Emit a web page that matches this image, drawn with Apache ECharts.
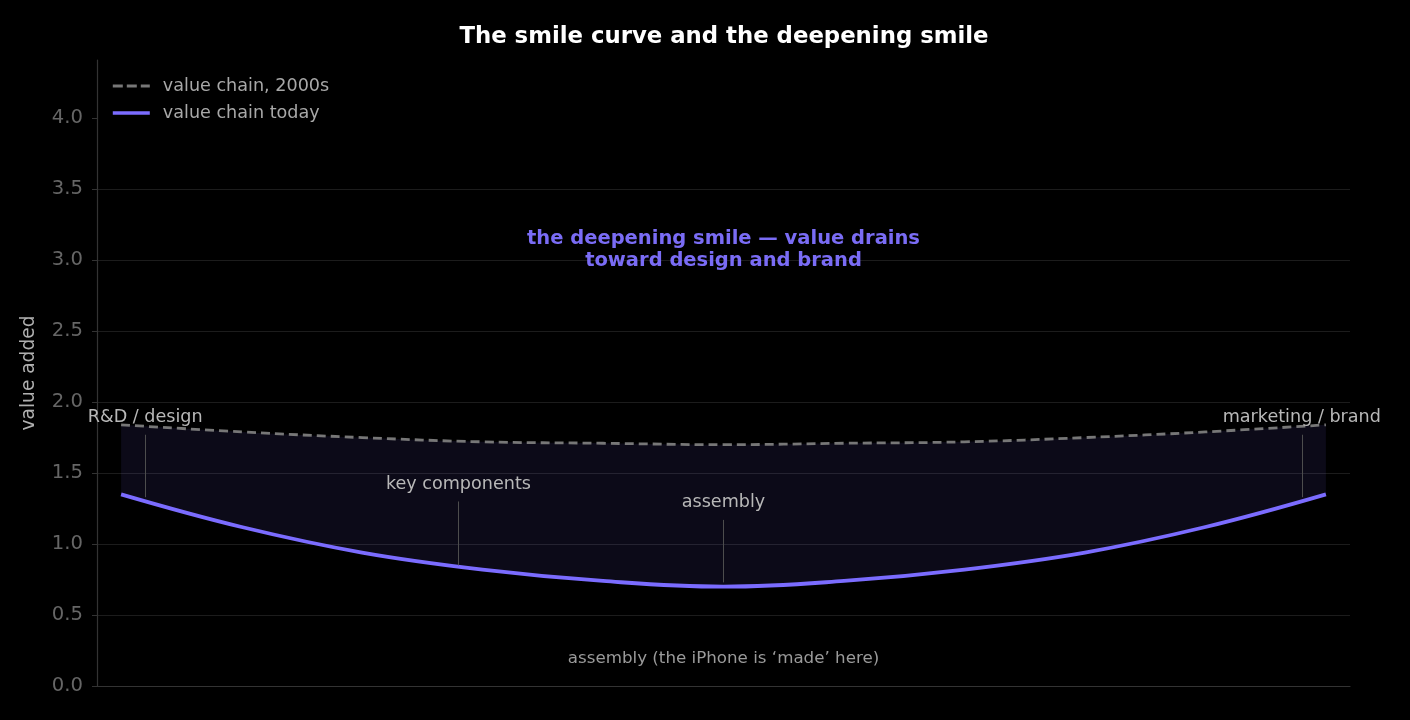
<!DOCTYPE html>
<html>
<head>
<meta charset="utf-8">
<script src="https://cdn.jsdelivr.net/npm/echarts@6/dist/echarts.min.js"></script>
<style>
  html, body { margin: 0; padding: 0; background: #000; }
  #chart { width: 1410px; height: 720px; }
</style>
</head>
<body>
<div id="chart"></div>
<script>
	// positions along the value chain (0 = R&D, 1 = brand)
	var chainPos = [0, 0.1, 0.2, 0.3, 0.4, 0.5, 0.6, 0.7, 0.8, 0.9, 1.0];
	var value2000s = [1.84, 1.79, 1.75, 1.72, 1.71, 1.70, 1.71, 1.72, 1.75, 1.79, 1.84];
	var valueToday = [1.35, 1.12, 0.94, 0.82, 0.74, 0.70, 0.74, 0.82, 0.94, 1.12, 1.35];
	var yTicks = [0, 0.5, 1.0, 1.5, 2.0, 2.5, 3.0, 3.5, 4.0];

	// stage annotations
	var stageX = [0.02, 0.28, 0.5, 0.98];
	var stageNames = ['R&D / design', 'key components', 'assembly', 'marketing / brand'];
	var stageLabelY = [1.894, 1.423, 1.296, 1.894];
	var stageLineTop = [1.77, 1.30, 1.17, 1.77];
	var stageLineBottom = [1.33, 0.85, 0.73, 1.33];

	var font = 'DejaVu Sans';

	var pairs = function (ys) {
		var out = [];
		for (var i = 0; i < chainPos.length; i++) out.push([chainPos[i], ys[i]]);
		return out;
	};
	// the band is stacked: y first, so the stack runs on y (encode swaps it back)
	var baseYX = [], gapYX = [];
	for (var i = 0; i < chainPos.length; i++) {
		baseYX.push([valueToday[i], chainPos[i]]);
		gapYX.push([+(value2000s[i] - valueToday[i]).toFixed(3), chainPos[i]]);
	}

	var stageLines = [];
	var stageLabels = [];
	for (var j = 0; j < stageX.length; j++) {
		stageLines.push([{ coord: [stageX[j], stageLineTop[j]] }, { coord: [stageX[j], stageLineBottom[j]] }]);
		stageLabels.push({ value: [stageX[j], stageLabelY[j]], name: stageNames[j] });
	}

	var chart = echarts.init(document.getElementById('chart'), null, { renderer: 'canvas' });
	chart.setOption({
		backgroundColor: '#000',
		animation: false,
		textStyle: { fontFamily: font },
		title: {
			text: 'The smile curve and the deepening smile',
			left: 719, top: 21, textAlign: 'center',
			textStyle: { color: '#fff', fontSize: 22.8, fontWeight: 'bold', fontFamily: font }
		},
		legend: {
			orient: 'vertical', left: 106, top: 72,
			itemWidth: 37, itemHeight: 14, itemGap: 9,
			data: [
				{ name: 'value chain, 2000s', lineStyle: { width: 2.8, type: [10, 4] }, itemStyle: { opacity: 0 } },
				{ name: 'value chain today', lineStyle: { width: 3.6 }, itemStyle: { opacity: 0 } }
			],
			textStyle: { color: '#a8a8a8', fontSize: 17.6, fontFamily: font, padding: [0, 0, 0, 8] }
		},
		grid: { left: 97, right: 60, top: 60, bottom: 34 },
		xAxis: {
			type: 'value', min: -0.02, max: 1.02,
			axisLine: { show: true, onZero: false, lineStyle: { color: '#333', width: 1.2 } },
			axisTick: { show: false }, axisLabel: { show: false }, splitLine: { show: false }
		},
		yAxis: {
			type: 'value', min: 0, max: 4.41, interval: 0.5,
			name: 'value added', nameLocation: 'middle', nameGap: 58,
			nameTextStyle: { color: '#b0b0b0', fontSize: 18.6, fontFamily: font },
			axisLine: { show: true, onZero: false, lineStyle: { color: '#333', width: 1.2 } },
			axisTick: { show: true, length: 5, customValues: yTicks, lineStyle: { color: '#333' } },
			axisLabel: {
				customValues: yTicks, margin: 14, color: '#666', fontSize: 19.6, fontFamily: font,
				formatter: function (v) { return v.toFixed(1); }
			},
			splitLine: { show: true, showMaxLine: false, lineStyle: { color: '#1c1c1c', width: 1.2 } }
		},
		series: [
			{
				name: 'base', type: 'line', stack: 'band', data: baseYX, encode: { x: 1, y: 0 },
				smooth: 0.4, symbol: 'none', silent: true,
				lineStyle: { opacity: 0 }, z: 1
			},
			{
				name: 'band', type: 'line', stack: 'band', data: gapYX, encode: { x: 1, y: 0 },
				smooth: 0.4, symbol: 'none', silent: true,
				lineStyle: { opacity: 0 },
				areaStyle: { color: 'rgba(124,108,255,0.135)' }, z: 1
			},
			{
				name: 'value chain, 2000s', type: 'line', data: pairs(value2000s),
				smooth: 0.4, symbol: 'none',
				lineStyle: { color: '#777', width: 2.8, type: [9, 5] },
				itemStyle: { color: '#777' }, z: 3
			},
			{
				name: 'value chain today', type: 'line', data: pairs(valueToday),
				smooth: 0.4, symbol: 'none',
				lineStyle: { color: '#7b6cff', width: 3.8 },
				itemStyle: { color: '#7b6cff' }, z: 4,
				markLine: {
					silent: true, symbol: 'none', label: { show: false },
					lineStyle: { color: '#4d4d4d', width: 1, type: 'solid' },
					data: stageLines
				}
			},
			{
				name: 'stages', type: 'scatter', data: stageLabels, symbolSize: 0, silent: true, z: 5,
				itemStyle: { opacity: 1 },
				label: {
					show: true, position: 'inside', formatter: '{b}',
					color: '#b8b8b8', fontSize: 17.6, fontFamily: font
				}
			},
			{
				name: 'notes', type: 'scatter', symbolSize: 0, silent: true, z: 5,
				itemStyle: { opacity: 1 },
				data: [
					{
						value: [0.5, 3.07], name: 'the deepening smile \u2014 value drains\ntoward design and brand',
						label: { color: '#7a6cf5', fontWeight: 'bold', fontSize: 19.5, lineHeight: 22 }
					},
					{
						value: [0.5, 0.19], name: 'assembly (the iPhone is \u2018made\u2019 here)',
						label: { color: '#9a9a9a', fontSize: 16.7 }
					}
				],
				label: { show: true, position: 'inside', formatter: '{b}', fontFamily: font, align: 'center' }
			}
		]
	});
</script>
</body>
</html>
